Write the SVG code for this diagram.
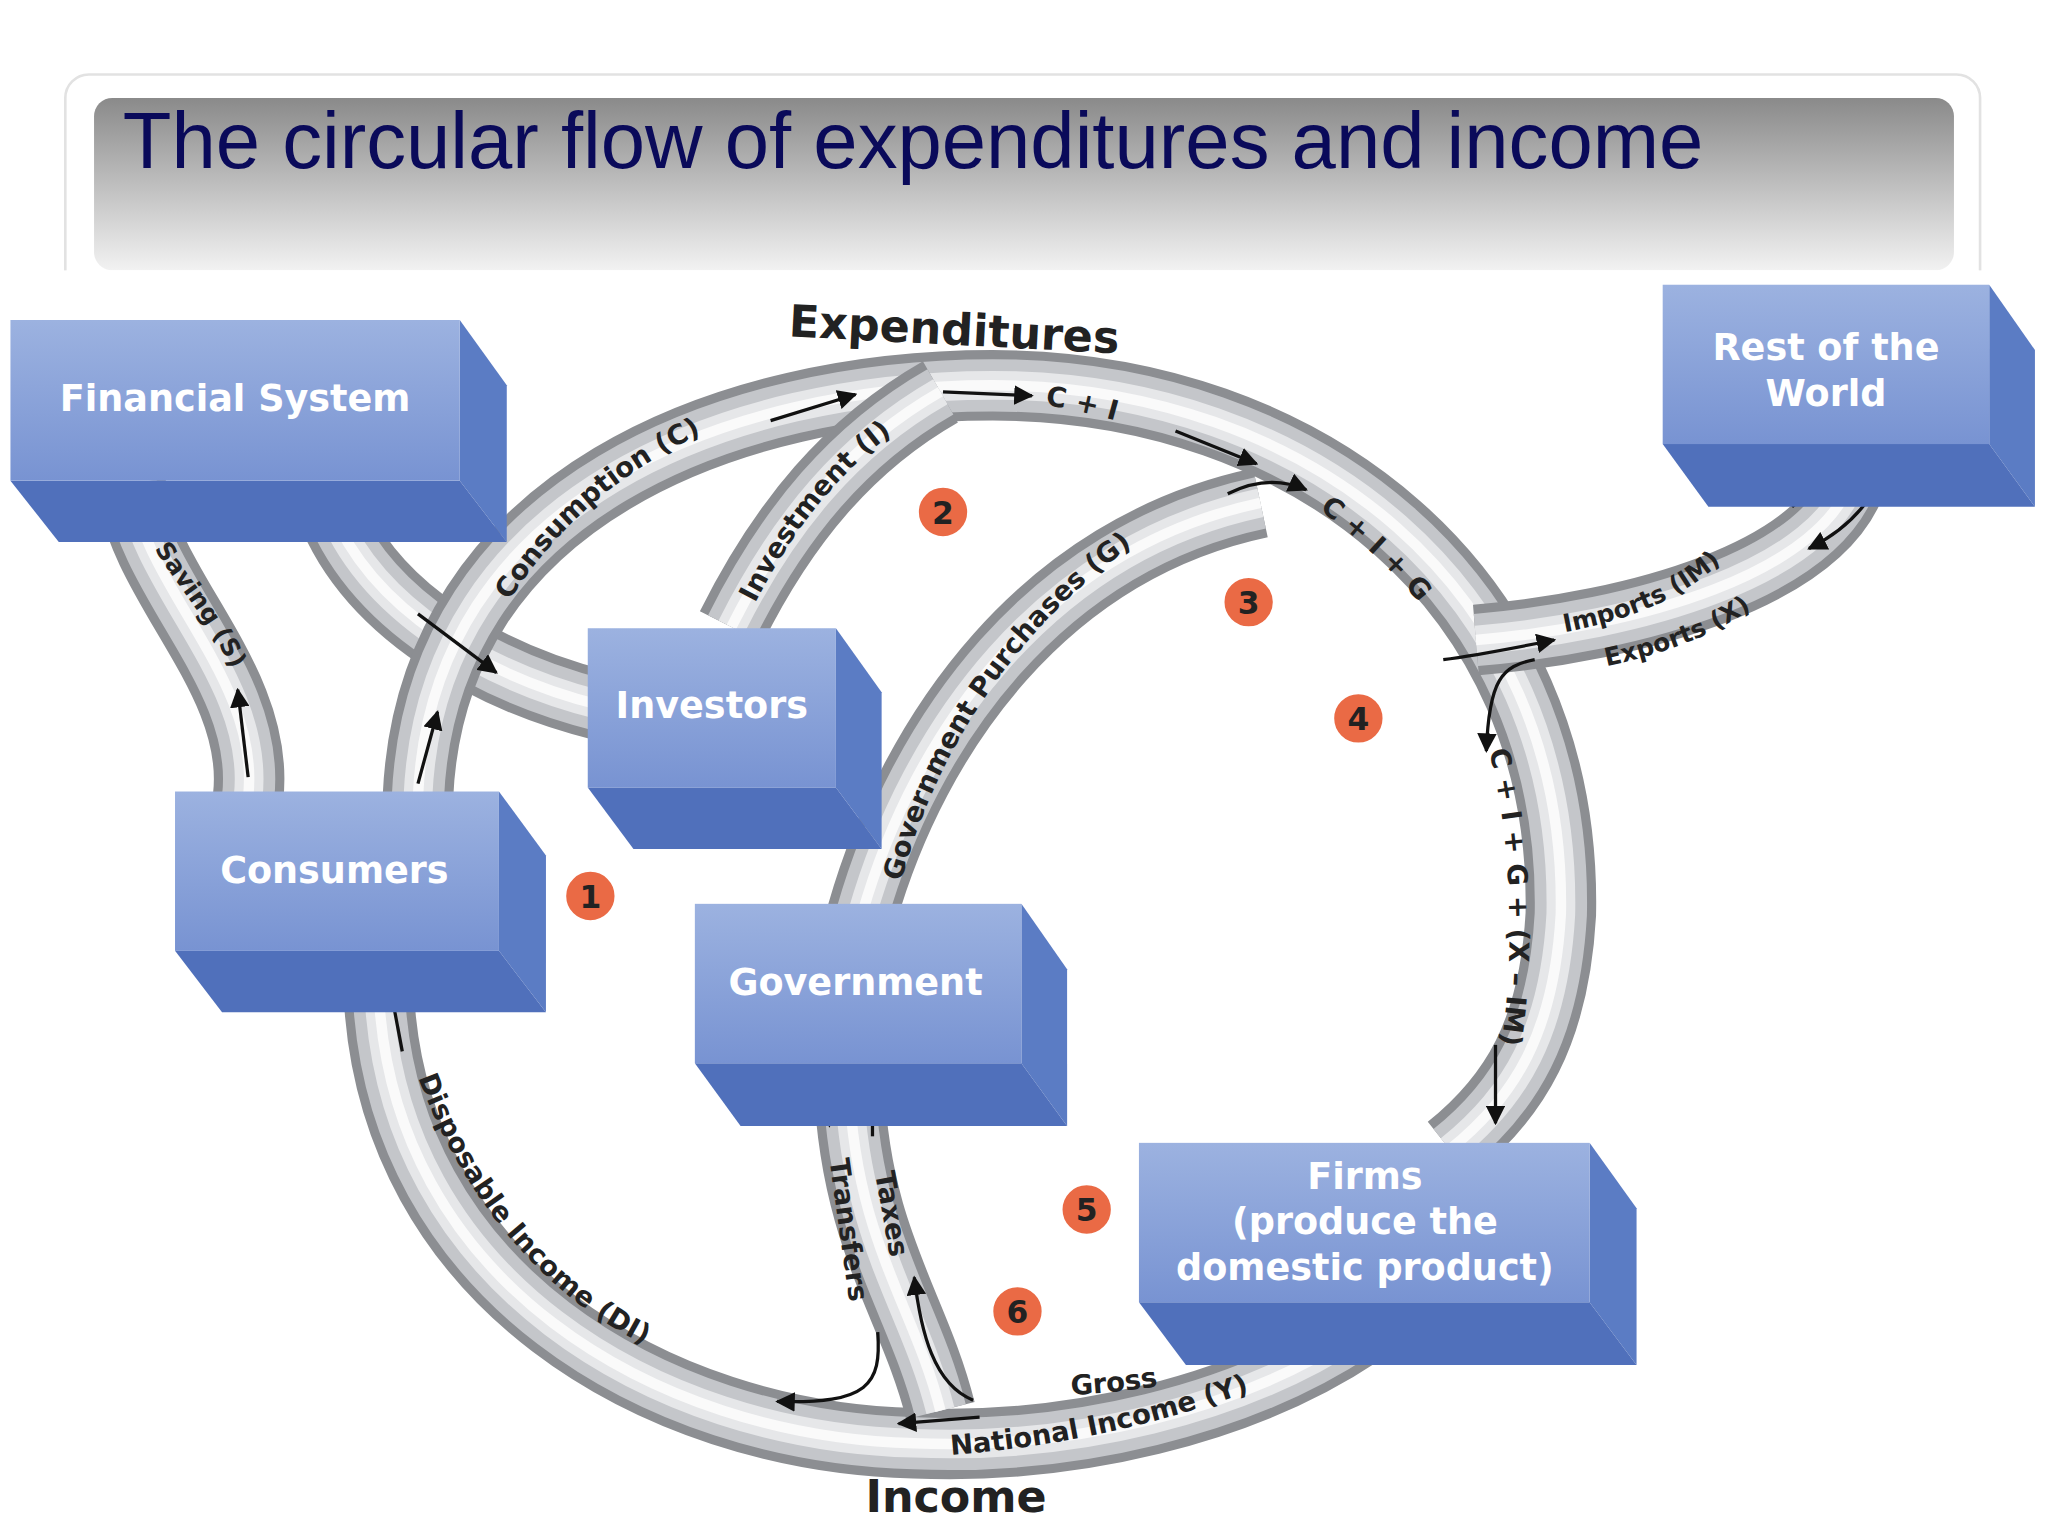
<svg xmlns="http://www.w3.org/2000/svg" xmlns:xlink="http://www.w3.org/1999/xlink" width="2048" height="1536" viewBox="0 0 2048 1536">
<style>
.t1{stroke:#8c8e92;stroke-width:54;fill:none}
.t2{stroke:#c4c6ca;stroke-width:40;fill:none}
.t3{stroke:#e6e7e9;stroke-width:22;fill:none}
.t4{stroke:#fafafa;stroke-width:8;fill:none}
.lbl{font-family:"DejaVu Sans",sans-serif;font-weight:bold;font-size:21px;fill:#222}
.big{font-family:"DejaVu Sans",sans-serif;font-weight:bold;font-size:34px;fill:#222;text-anchor:middle}
.box{font-family:"DejaVu Sans",sans-serif;font-weight:bold;font-size:28px;fill:#fff;text-anchor:middle}
.num{font-family:"DejaVu Sans",sans-serif;font-weight:bold;font-size:24px;fill:#222;text-anchor:middle}
.ar{stroke:#111;stroke-width:2.5;fill:none;marker-end:url(#ah)}
.side{fill:#5b7cc4}.bot{fill:#5070bb}
</style>
<defs>
<linearGradient id="tg" x1="0" y1="0" x2="0" y2="1"><stop offset="0" stop-color="#8a8a8a"/><stop offset="1" stop-color="#f2f2f2"/></linearGradient>
<linearGradient id="fg" x1="0" y1="0" x2="0" y2="1"><stop offset="0" stop-color="#9cb2e0"/><stop offset="1" stop-color="#7893d2"/></linearGradient>
<marker id="ah" viewBox="0 0 10 10" refX="9" refY="5" markerWidth="6" markerHeight="6" orient="auto"><path d="M0 0L10 5L0 10z" fill="#111"/></marker>
<path id="pTop" d="M320 610 C330 380 560 295 760 295 C1000 295 1200 450 1195 700 C1190 790 1160 840 1110 880"/>
<path id="pBot" d="M1040 1020 C950 1080 820 1110 700 1105 C500 1100 300 980 290 760"/>
<path id="pInv" d="M560 480 C600 400 650 340 720 300"/>
<path id="pGov" d="M660 700 C700 560 800 420 965 385"/>
<path id="pSav" d="M100 370 C110 450 200 520 190 610"/>
<path id="pFS" d="M250 380 C280 470 380 520 460 540"/>
<path id="pIM" d="M1130 490 C1250 480 1400 440 1420 360"/>
<path id="pTax" d="M650 830 C655 950 700 1000 720 1080"/>
<path id="lC" d="M390 460 C440 380 520 330 600 310"/>
<path id="lI" d="M578 462 C610 400 650 350 705 318"/>
<path id="lCI" d="M800 310 C830 315 850 320 880 330"/>
<path id="lCIG" d="M1010 390 C1050 420 1080 450 1100 480"/>
<path id="lG" d="M690 675 C720 560 800 450 905 395"/>
<path id="lX" d="M1140 575 C1160 650 1160 760 1145 820"/>
<path id="lDI" d="M320 825 C360 930 430 1010 530 1045"/>
<path id="lGNI" d="M820 1068 C880 1065 930 1055 985 1035"/>
<path id="lNI" d="M728 1114 C820 1107 900 1087 980 1057"/>
<path id="lSav" d="M118 420 C140 455 165 480 185 530"/>
<path id="lIM" d="M1198 484 C1250 474 1290 458 1322 426"/>
<path id="lEX" d="M1230 510 C1282 499 1328 481 1364 448"/>
</defs>
<rect x="0" y="0" width="2048" height="1536" fill="#fff"/>
<g transform="scale(1.30612)">
<g id="title">
<rect x="50" y="57" width="1466" height="170" rx="18" fill="none" stroke="#e2e2e2" stroke-width="2"/>
<rect x="72" y="75" width="1424" height="132" rx="14" fill="url(#tg)"/>
<rect x="40" y="207" width="1490" height="30" fill="#fff"/>
<text x="94" y="129" font-family="Liberation Sans, Arial, sans-serif" font-size="61" fill="#0a0a5a">The circular flow of expenditures and income</text>
</g>
<g id="connectors">
<g id="tubes">
<use href="#pSav" class="t1"/><use href="#pSav" class="t2"/><use href="#pSav" class="t3"/><use href="#pSav" class="t4"/>
<use href="#pFS" class="t1"/><use href="#pFS" class="t2"/><use href="#pFS" class="t3"/><use href="#pFS" class="t4"/>
<use href="#pTop" class="t1"/><use href="#pTop" class="t2"/><use href="#pTop" class="t3"/><use href="#pTop" class="t4"/>
<use href="#pBot" class="t1"/><use href="#pBot" class="t2"/><use href="#pBot" class="t3"/><use href="#pBot" class="t4"/>
<use href="#pInv" class="t1"/><use href="#pInv" class="t2"/><use href="#pInv" class="t3"/><use href="#pInv" class="t4"/>
<use href="#pGov" class="t1"/><use href="#pGov" class="t2"/><use href="#pGov" class="t3"/><use href="#pGov" class="t4"/>
<use href="#pIM" class="t1"/><use href="#pIM" class="t2"/><use href="#pIM" class="t3"/><use href="#pIM" class="t4"/>
<use href="#pTax" class="t1"/><use href="#pTax" class="t2"/><use href="#pTax" class="t3"/><use href="#pTax" class="t4"/>
</g>
<g id="arrows">
<path class="ar" d="M590 322 L655 302"/>
<path class="ar" d="M722 300 L790 303"/>
<path class="ar" d="M900 330 L962 355"/>
<path class="ar" d="M940 378 C960 368 980 366 1000 375"/>
<path class="ar" d="M1105 505 C1130 502 1160 496 1190 490"/>
<path class="ar" d="M1175 505 C1150 510 1140 520 1138 575"/>
<path class="ar" d="M1372 388 L1405 362"/>
<path class="ar" d="M1438 370 C1425 395 1405 410 1385 420"/>
<path class="ar" d="M1145 800 L1145 860"/>
<path class="ar" d="M320 470 L380 515"/>
<path class="ar" d="M190 595 L182 528"/>
<path class="ar" d="M320 600 L335 545"/>
<path class="ar" d="M308 805 L298 752"/>
<path class="ar" d="M750 1085 L688 1090"/>
<path class="ar" d="M672 1020 C675 1060 665 1075 595 1073"/>
<path class="ar" d="M745 1072 C715 1060 705 1020 700 978"/>
<path class="ar" d="M633 828 L635 862"/>
<path class="ar" d="M668 870 L668 835"/>
</g>
<g id="labels">
<text class="lbl"><textPath href="#lC">Consumption (C)</textPath></text>
<text class="lbl"><textPath href="#lI">Investment (I)</textPath></text>
<text class="lbl"><textPath href="#lCI">C + I</textPath></text>
<text class="lbl"><textPath href="#lCIG">C + I + G</textPath></text>
<text class="lbl"><textPath href="#lG">Government Purchases (G)</textPath></text>
<text class="lbl"><textPath href="#lX">C + I + G + (X – IM)</textPath></text>
<text class="lbl"><textPath href="#lDI">Disposable Income (DI)</textPath></text>
<text class="lbl"><textPath href="#lGNI">Gross</textPath></text>
<text class="lbl"><textPath href="#lNI">National Income (Y)</textPath></text>
<text class="lbl" style="font-size:19px"><textPath href="#lSav">Saving (S)</textPath></text>
<text class="lbl" style="font-size:19px"><textPath href="#lIM">Imports (IM)</textPath></text>
<text class="lbl" style="font-size:19px"><textPath href="#lEX">Exports (X)</textPath></text>
<text class="lbl" transform="translate(635 888) rotate(82)">Transfers</text>
<text class="lbl" transform="translate(670 898) rotate(80)">Taxes</text>
<text x="730" y="264" class="big" transform="rotate(3 730 264)">Expenditures</text>
<text x="732" y="1158" class="big">Income</text>
</g>
</g>
<g id="FinancialSystem"><polygon class="side" points="352,245 388,295 388,415 352,368"/><polygon class="bot" points="8,368 352,368 388,415 45,415"/><rect x="8" y="245" width="344" height="123" fill="url(#fg)"/><text class="box" x="180" y="315">Financial System</text></g>
<g id="RestOfWorld"><polygon class="side" points="1523,218 1558,268 1558,388 1523,340"/><polygon class="bot" points="1273,340 1523,340 1558,388 1308,388"/><rect x="1273" y="218" width="250" height="122" fill="url(#fg)"/><text class="box" x="1398" y="276">Rest of the</text><text class="box" x="1398" y="311">World</text></g>
<g id="Investors"><polygon class="side" points="640,481 675,530 675,650 640,603"/><polygon class="bot" points="450,603 640,603 675,650 485,650"/><rect x="450" y="481" width="190" height="122" fill="url(#fg)"/><text class="box" x="545" y="550">Investors</text></g>
<g id="Consumers"><polygon class="side" points="382,606 418,655 418,775 382,728"/><polygon class="bot" points="134,728 382,728 418,775 170,775"/><rect x="134" y="606" width="248" height="122" fill="url(#fg)"/><text class="box" x="256" y="676">Consumers</text></g>
<g id="Government"><polygon class="side" points="782,692 817,742 817,862 782,814"/><polygon class="bot" points="532,814 782,814 817,862 567,862"/><rect x="532" y="692" width="250" height="122" fill="url(#fg)"/><text class="box" x="655" y="762">Government</text></g>
<g id="Firms"><polygon class="side" points="1217,875 1253,925 1253,1045 1217,997"/><polygon class="bot" points="872,997 1217,997 1253,1045 908,1045"/><rect x="872" y="875" width="345" height="122" fill="url(#fg)"/><text class="box" x="1045" y="910">Firms</text><text class="box" x="1045" y="945">(produce the</text><text class="box" x="1045" y="980">domestic product)</text></g>
<g id="numbers" fill="#ea6a45" stroke="#fff" stroke-width="3">
<circle cx="452" cy="686" r="20"/><circle cx="722" cy="392" r="20"/><circle cx="956" cy="461" r="20"/><circle cx="1040" cy="550" r="20"/><circle cx="832" cy="926" r="20"/><circle cx="779" cy="1004" r="20"/>
</g>
<g id="numtext"><text class="num" x="452" y="695">1</text><text class="num" x="722" y="401">2</text><text class="num" x="956" y="470">3</text><text class="num" x="1040" y="559">4</text><text class="num" x="832" y="935">5</text><text class="num" x="779" y="1013">6</text></g>
</g>
</svg>
